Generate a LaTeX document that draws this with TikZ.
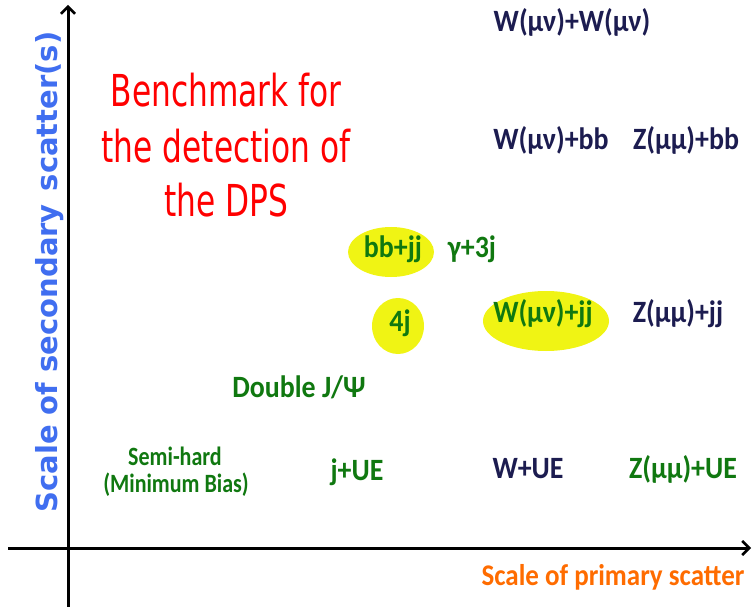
\documentclass[tikz,border=0pt]{standalone}
\usepackage{graphicx}
\usepackage{fontspec}
\setmainfont{Carlito}[BoldFont={Carlito Bold}]
\newfontfamily\procfont[FakeStretch=0.9]{Carlito Bold}
\newfontfamily\benchfont[FakeStretch=0.71]{DejaVu Sans}
\newfontfamily\axisfont{DejaVu Sans Bold}
\usetikzlibrary{arrows.meta}

\definecolor{navyink}{RGB}{28,28,80}
\definecolor{greenink}{RGB}{16,120,16}
\definecolor{axisblue}{RGB}{64,110,240}
\definecolor{axisorange}{RGB}{255,108,0}
\definecolor{hilite}{RGB}{240,244,20}

% tall, narrow lettering
\newcommand{\tallset}[2]{\scalebox{1}[#1]{#2}}

\tikzset{
  axisline/.style={line width=3pt, -{Straight Barb[length=7pt,width=14pt,line width=2.5pt]}},
  proc/.style={font=\procfont\fontsize{31}{33}\selectfont, anchor=base, inner sep=0pt},
  navyproc/.style={proc, text=navyink},
  greenproc/.style={proc, text=greenink},
  smallproc/.style={greenproc, font=\bfseries\fontsize{22}{24}\selectfont},
  bench/.style={font=\benchfont\fontsize{44}{46}\selectfont, text=red, anchor=base, inner sep=0pt},
}

\begin{document}
\begin{tikzpicture}[x=1pt, y=-1pt]
  \useasboundingbox (0,0) rectangle (753,607);

  % axes
  \coordinate (xstart) at (8,548);
  \coordinate (xend) at (751,548);
  \coordinate (ystart) at (68,607);
  \coordinate (yend) at (68,5);
  \draw[axisline] (xstart) -- (xend);
  \draw[axisline] (ystart) -- (yend);

  % axis titles
  \node[font=\axisfont\fontsize{29}{31}\selectfont, text=axisblue, rotate=90, anchor=base, inner sep=0pt]
    (ylabel) at (57,272) {Scale of secondary\hspace{0.45em}scatter(s)};
  \node[proc, text=axisorange, font=\procfont\fontsize{30}{32}\selectfont] (xlabel) at (613,585)
    {Scale of primary scatter};

  % highlighted processes
  \fill[hilite] (391,252) ellipse [x radius=43, y radius=25];
  \fill[hilite] (398,326) ellipse [x radius=26, y radius=28];
  \fill[hilite] (546,321) ellipse [x radius=63, y radius=30];

  % benchmark caption
  \node[bench] (bench1) at (226,107) {Benchmark for};
  \node[bench] (bench2) at (226,163) {the detection of};
  \node[bench] (bench3) at (226,217) {the DPS};

  % processes
  \node[navyproc] (wwmunu) at (572,32) {W(μν)+W(μν)};
  \node[navyproc] (wbb) at (551,150) {W(μν)+bb};
  \node[navyproc] (zbb) at (686,150) {Z(μμ)+bb};
  \node[greenproc] (bbjj) at (393,258) {bb+jj};
  \node[greenproc] (g3j) at (472,257) {γ+3j};
  \node[greenproc] (fourj) at (400,331) {4j};
  \node[greenproc] (wjj) at (543,322) {W(μν)+jj};
  \node[navyproc] (zjj) at (678,322) {Z(μμ)+jj};
  \node[greenproc] (jpsi) at (299,397) {Double J/Ψ};
  \node[smallproc] (semihard) at (175,465) {\tallset{1.2}{Semi-hard}};
  \node[smallproc] (minbias) at (176,492) {\tallset{1.2}{(Minimum Bias)}};
  \node[greenproc] (jue) at (357,480) {j+UE};
  \node[navyproc] (wue) at (528,478) {W+UE};
  \node[greenproc] (zue) at (683,478) {Z(μμ)+UE};
\end{tikzpicture}
\end{document}
